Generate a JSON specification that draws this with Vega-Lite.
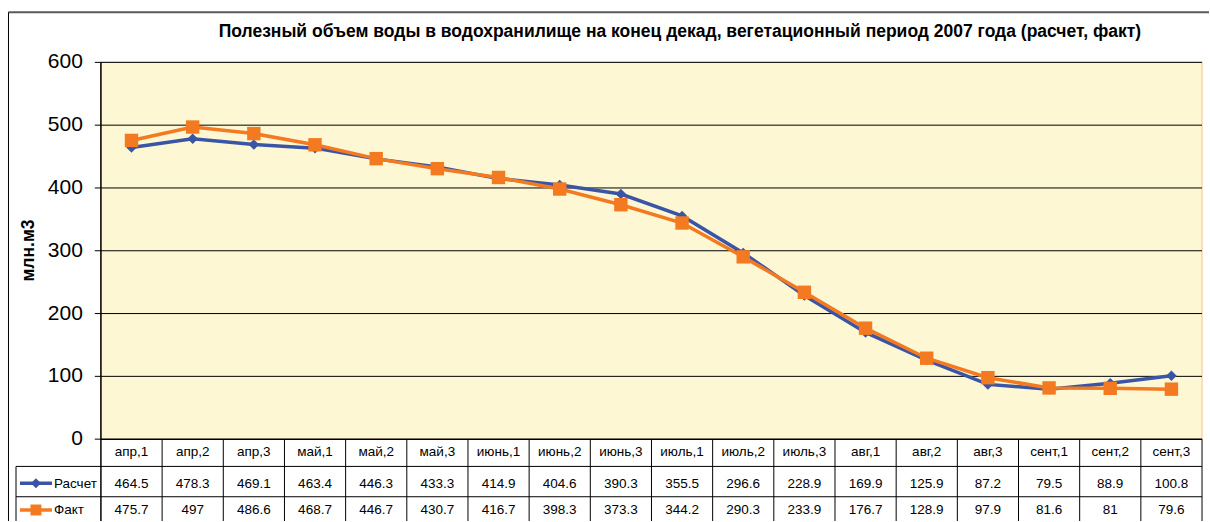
{
  "$schema": "https://vega.github.io/schema/vega-lite/v6.json",
  "width": 1210,
  "height": 522,
  "autosize": {"type": "fit", "contains": "padding"},
  "padding": 0,
  "background": "white",
  "config": {"view": {"stroke": null}, "font": "Liberation Sans"},
  "datasets": {
    "main": [
      {"idx": 1, "cat": "апр,1", "calc": 464.5, "fact": 475.7},
      {"idx": 2, "cat": "апр,2", "calc": 478.3, "fact": 497},
      {"idx": 3, "cat": "апр,3", "calc": 469.1, "fact": 486.6},
      {"idx": 4, "cat": "май,1", "calc": 463.4, "fact": 468.7},
      {"idx": 5, "cat": "май,2", "calc": 446.3, "fact": 446.7},
      {"idx": 6, "cat": "май,3", "calc": 433.3, "fact": 430.7},
      {"idx": 7, "cat": "июнь,1", "calc": 414.9, "fact": 416.7},
      {"idx": 8, "cat": "июнь,2", "calc": 404.6, "fact": 398.3},
      {"idx": 9, "cat": "июнь,3", "calc": 390.3, "fact": 373.3},
      {"idx": 10, "cat": "июль,1", "calc": 355.5, "fact": 344.2},
      {"idx": 11, "cat": "июль,2", "calc": 296.6, "fact": 290.3},
      {"idx": 12, "cat": "июль,3", "calc": 228.9, "fact": 233.9},
      {"idx": 13, "cat": "авг,1", "calc": 169.9, "fact": 176.7},
      {"idx": 14, "cat": "авг,2", "calc": 125.9, "fact": 128.9},
      {"idx": 15, "cat": "авг,3", "calc": 87.2, "fact": 97.9},
      {"idx": 16, "cat": "сент,1", "calc": 79.5, "fact": 81.6},
      {"idx": 17, "cat": "сент,2", "calc": 88.9, "fact": 81},
      {"idx": 18, "cat": "сент,3", "calc": 100.8, "fact": 79.6}
    ],
    "ticks": [{"v": 0}, {"v": 100}, {"v": 200}, {"v": 300}, {"v": 400}, {"v": 500}, {"v": 600}],
    "one": [{}]
  },
  "layer": [
    {
      "data": {"name": "one"},
      "mark": {"type": "rule", "stroke": "#5a5a5a", "strokeWidth": 2},
      "encoding": {
        "x": {"datum": -1.011, "type": "quantitative", "scale": {"type": "linear", "domain": [-1.1497, 18.6144], "nice": false, "zero": false}, "axis": null},
        "x2": {"datum": 18.6144},
        "y": {"datum": 679.8, "type": "quantitative", "scale": {"type": "linear", "domain": [-130.33, 699.3], "nice": false, "zero": false}, "axis": null}
      }
    },
    {
      "data": {"name": "one"},
      "mark": {"type": "rule", "stroke": "#000000", "strokeWidth": 1},
      "encoding": {
        "x": {"datum": -1.011, "type": "quantitative"},
        "y": {"datum": 679.8, "type": "quantitative"},
        "y2": {"datum": -130.33}
      }
    },
    {
      "data": {"name": "one"},
      "mark": {"type": "rect", "fill": "#FDF8D3", "stroke": "#F8D5AC", "strokeWidth": 1.5},
      "encoding": {
        "x": {"datum": 0.5, "type": "quantitative"},
        "x2": {"datum": 18.5},
        "y": {"datum": 0, "type": "quantitative"},
        "y2": {"datum": 600}
      }
    },
    {
      "data": {"name": "ticks"},
      "transform": [{"filter": "datum.v > 0"}],
      "mark": {"type": "rule", "stroke": "#000000", "strokeWidth": 1},
      "encoding": {
        "x": {"datum": 0.5, "type": "quantitative"},
        "x2": {"datum": 18.5},
        "y": {"field": "v", "type": "quantitative"}
      }
    },
    {
      "data": {"name": "ticks"},
      "mark": {"type": "rule", "stroke": "#000000", "strokeWidth": 1},
      "encoding": {
        "x": {"datum": 0.4, "type": "quantitative"},
        "x2": {"datum": 0.5},
        "y": {"field": "v", "type": "quantitative"}
      }
    },
    {
      "data": {"name": "ticks"},
      "mark": {"type": "text", "align": "right", "baseline": "middle", "dx": -18, "fontSize": 21, "color": "#000000"},
      "encoding": {
        "x": {"datum": 0.5, "type": "quantitative"},
        "y": {"field": "v", "type": "quantitative"},
        "text": {"field": "v", "type": "nominal"}
      }
    },
    {
      "data": {"name": "one"},
      "mark": {"type": "rule", "stroke": "#000000", "strokeWidth": 1.5},
      "encoding": {
        "x": {"datum": 0.5, "type": "quantitative"},
        "y": {"datum": 600, "type": "quantitative"},
        "y2": {"datum": -130.33}
      }
    },
    {
      "data": {"name": "one"},
      "mark": {"type": "text", "text": "млн.м3", "angle": 270, "align": "center", "baseline": "middle", "fontSize": 17.5, "fontWeight": "bold", "color": "#000000"},
      "encoding": {
        "x": {"datum": -0.668, "type": "quantitative"},
        "y": {"datum": 300.4, "type": "quantitative"}
      }
    },
    {
      "data": {"name": "one"},
      "mark": {"type": "text", "text": "Полезный объем воды в водохранилище на конец декад, вегетационный период 2007 года (расчет, факт)", "align": "center", "baseline": "middle", "fontSize": 17.5, "fontWeight": "bold", "color": "#000000"},
      "encoding": {
        "x": {"datum": 9.9655, "type": "quantitative"},
        "y": {"datum": 648.5, "type": "quantitative"}
      }
    },
    {
      "data": {"name": "one"},
      "mark": {"type": "rule", "stroke": "#000000", "strokeWidth": 1.5},
      "encoding": {
        "x": {"datum": 0.5, "type": "quantitative"},
        "x2": {"datum": 18.5},
        "y": {"datum": 0, "type": "quantitative"}
      }
    },
    {
      "data": {"name": "one"},
      "mark": {"type": "rule", "stroke": "#000000", "strokeWidth": 1},
      "encoding": {
        "x": {"datum": -0.888, "type": "quantitative"},
        "x2": {"datum": 18.5},
        "y": {"datum": -43.4, "type": "quantitative"}
      }
    },
    {
      "data": {"name": "one"},
      "mark": {"type": "rule", "stroke": "#000000", "strokeWidth": 1},
      "encoding": {
        "x": {"datum": -0.888, "type": "quantitative"},
        "x2": {"datum": 18.5},
        "y": {"datum": -91.7, "type": "quantitative"}
      }
    },
    {
      "data": {"name": "one"},
      "mark": {"type": "rule", "stroke": "#000000", "strokeWidth": 1},
      "encoding": {
        "x": {"datum": -0.888, "type": "quantitative"},
        "y": {"datum": -43.4, "type": "quantitative"},
        "y2": {"datum": -130.33}
      }
    },
    {
      "data": {"name": "main"},
      "mark": {"type": "rule", "stroke": "#000000", "strokeWidth": 1, "xOffset": 30.611},
      "encoding": {
        "x": {"field": "idx", "type": "quantitative"},
        "y": {"datum": 0, "type": "quantitative"},
        "y2": {"datum": -130.33}
      }
    },
    {
      "data": {"name": "main"},
      "mark": {"type": "text", "align": "center", "baseline": "middle", "fontSize": 13.5, "color": "#000000"},
      "encoding": {
        "x": {"field": "idx", "type": "quantitative"},
        "y": {"datum": -20.7, "type": "quantitative"},
        "text": {"field": "cat", "type": "nominal"}
      }
    },
    {
      "data": {"name": "main"},
      "mark": {"type": "text", "align": "center", "baseline": "middle", "fontSize": 13.5, "color": "#000000"},
      "encoding": {
        "x": {"field": "idx", "type": "quantitative"},
        "y": {"datum": -71.5, "type": "quantitative"},
        "text": {"field": "calc", "type": "nominal"}
      }
    },
    {
      "data": {"name": "main"},
      "mark": {"type": "text", "align": "center", "baseline": "middle", "fontSize": 13.5, "color": "#000000"},
      "encoding": {
        "x": {"field": "idx", "type": "quantitative"},
        "y": {"datum": -112.8, "type": "quantitative"},
        "text": {"field": "fact", "type": "nominal"}
      }
    },
    {
      "data": {"name": "one"},
      "mark": {"type": "rule", "stroke": "#3A55A6", "strokeWidth": 3.5},
      "encoding": {
        "x": {"datum": -0.823, "type": "quantitative"},
        "x2": {"datum": -0.3},
        "y": {"datum": -70.4, "type": "quantitative"}
      }
    },
    {
      "data": {"name": "one"},
      "mark": {"type": "point", "shape": "diamond", "filled": true, "fill": "#3A55A6", "size": 100, "opacity": 1, "strokeWidth": 0},
      "encoding": {
        "x": {"datum": -0.562, "type": "quantitative"},
        "y": {"datum": -70.4, "type": "quantitative"}
      }
    },
    {
      "data": {"name": "one"},
      "mark": {"type": "rule", "stroke": "#F47A22", "strokeWidth": 3.5},
      "encoding": {
        "x": {"datum": -0.823, "type": "quantitative"},
        "x2": {"datum": -0.3},
        "y": {"datum": -112.8, "type": "quantitative"}
      }
    },
    {
      "data": {"name": "one"},
      "mark": {"type": "point", "shape": "square", "filled": true, "fill": "#F47A22", "size": 120, "opacity": 1, "strokeWidth": 0},
      "encoding": {
        "x": {"datum": -0.562, "type": "quantitative"},
        "y": {"datum": -112.8, "type": "quantitative"}
      }
    },
    {
      "data": {"name": "one"},
      "mark": {"type": "text", "text": "Расчет", "align": "left", "baseline": "middle", "fontSize": 13.5, "color": "#000000"},
      "encoding": {
        "x": {"datum": -0.268, "type": "quantitative"},
        "y": {"datum": -71.5, "type": "quantitative"}
      }
    },
    {
      "data": {"name": "one"},
      "mark": {"type": "text", "text": "Факт", "align": "left", "baseline": "middle", "fontSize": 13.5, "color": "#000000"},
      "encoding": {
        "x": {"datum": -0.268, "type": "quantitative"},
        "y": {"datum": -112.8, "type": "quantitative"}
      }
    },
    {
      "data": {"name": "main"},
      "mark": {"type": "line", "stroke": "#3A55A6", "strokeWidth": 3.5},
      "encoding": {
        "x": {"field": "idx", "type": "quantitative"},
        "y": {"field": "calc", "type": "quantitative"}
      }
    },
    {
      "data": {"name": "main"},
      "mark": {"type": "point", "shape": "diamond", "filled": true, "fill": "#3A55A6", "size": 110, "opacity": 1, "strokeWidth": 0},
      "encoding": {
        "x": {"field": "idx", "type": "quantitative"},
        "y": {"field": "calc", "type": "quantitative"}
      }
    },
    {
      "data": {"name": "main"},
      "mark": {"type": "line", "stroke": "#F47A22", "strokeWidth": 3.5},
      "encoding": {
        "x": {"field": "idx", "type": "quantitative"},
        "y": {"field": "fact", "type": "quantitative"}
      }
    },
    {
      "data": {"name": "main"},
      "mark": {"type": "point", "shape": "square", "filled": true, "fill": "#F47A22", "size": 180, "opacity": 1, "strokeWidth": 0},
      "encoding": {
        "x": {"field": "idx", "type": "quantitative"},
        "y": {"field": "fact", "type": "quantitative"}
      }
    }
  ]
}
